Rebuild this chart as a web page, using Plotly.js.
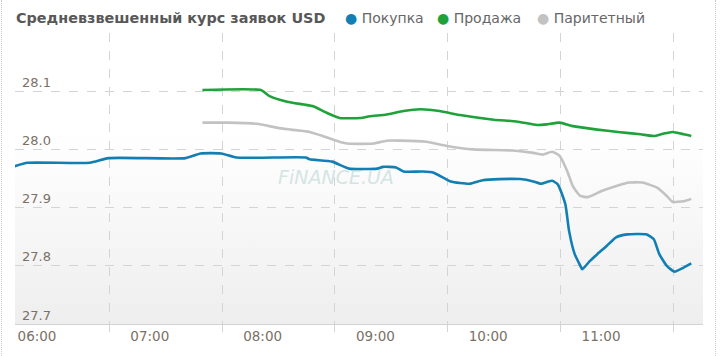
<!DOCTYPE html>
<html>
<head>
<meta charset="utf-8">
<script src="https://cdn.plot.ly/plotly-3.0.1.min.js"></script>
<style>
  html, body { margin: 0; padding: 0; background: #fff; }
  #wrap { position: relative; width: 720px; height: 356px; overflow: hidden; }
  #bg { position: absolute; left: 15px; top: 33px; width: 688px; height: 292px;
        background: linear-gradient(to bottom, #ffffff 0%, #ffffff 35%, #eeeeee 100%); }
  #frameL { position: absolute; left: 1px; top: 0; width: 0; height: 356px; border-left: 1px dotted #c8c8c8; }
  #frameR { position: absolute; left: 715px; top: 0; width: 0; height: 356px; border-left: 1px dotted #c8c8c8; }
  #chart { position: absolute; left: 0; top: 0; width: 720px; height: 356px; }
</style>
</head>
<body>
<div id="wrap">
  <div id="bg"></div>
  <div id="frameL"></div>
  <div id="frameR"></div>
  <div id="chart"></div>
</div>
<script>
// ---- data ----
const chartTitle = 'Средневзвешенный курс заявок USD';
const seriesNames = ['Покупка', 'Продажа', 'Паритетный'];
const seriesColors = ['#117fb3', '#1fa23a', '#c2c2c2'];

const buyTimes = ['05:48','05:55','06:28','06:38','07:19','07:27','07:38','07:46','08:23','08:25','08:37','08:46','09:01','09:04','09:11','09:15','09:25','09:31','09:40','09:50','09:57','10:06','10:17','10:24','10:28','10:32','10:34','10:37','10:41','10:43','10:46','10:49','10:50','10:54','10:58','11:03','11:08','11:14','11:24','11:28','11:31','11:35','11:39','11:44','11:48'];
const buyValues = [27.971,27.977,27.977,27.985,27.985,27.993,27.993,27.986,27.986,27.983,27.979,27.967,27.967,27.970,27.969,27.962,27.962,27.960,27.945,27.941,27.947,27.949,27.949,27.945,27.941,27.945,27.946,27.940,27.906,27.860,27.820,27.800,27.794,27.808,27.820,27.834,27.849,27.854,27.854,27.846,27.820,27.800,27.790,27.797,27.804];

const sellTimes = ['07:28','07:59','08:04','08:13','08:22','08:27','08:34','08:41','08:52','08:57','09:06','09:15','09:24','09:34','09:45','10:03','10:15','10:26','10:31','10:38','10:45','10:58','11:09','11:21','11:28','11:33','11:38','11:44','11:48'];
const sellValues = [28.102,28.102,28.091,28.082,28.077,28.074,28.063,28.054,28.054,28.057,28.060,28.066,28.069,28.066,28.059,28.051,28.048,28.042,28.043,28.046,28.040,28.034,28.030,28.026,28.023,28.027,28.030,28.026,28.023];

const parTimes = ['07:28','07:41','07:57','08:08','08:15','08:25','08:32','08:40','08:45','08:59','09:06','09:13','09:27','09:38','09:52','10:13','10:24','10:29','10:34','10:38','10:42','10:45','10:49','10:53','11:00','11:09','11:15','11:22','11:30','11:35','11:38','11:44','11:48'];
const parValues = [28.046,28.046,28.044,28.037,28.034,28.030,28.023,28.014,28.010,28.010,28.015,28.015,28.013,28.006,28.000,27.998,27.994,27.991,27.996,27.989,27.963,27.937,27.920,27.918,27.928,27.938,27.943,27.943,27.934,27.920,27.910,27.911,27.915];

const xTickLabels = ['06:00','07:00','08:00','09:00','10:00','11:00'];
const yTickVals = [27.7, 27.8, 27.9, 28.0, 28.1, 28.2];
const yTickText = ['27.7', '27.8', '27.9', '28.0', '28.1', ''];

// ---- helpers ----
const toHours = s => { const [h, m] = s.split(':').map(Number); return h + m / 60; };

const seriesTimes = [buyTimes, sellTimes, parTimes];
const seriesValues = [buyValues, sellValues, parValues];

const traces = seriesNames.map((name, i) => ({
  type: 'scatter', mode: 'lines', name: name,
  x: seriesTimes[i].map(toHours), y: seriesValues[i],
  line: { color: seriesColors[i], width: 2.6, shape: 'spline', smoothing: 0.5 },
  showlegend: false, hoverinfo: 'x+y'
}));

const FONT = 'DejaVu Sans, Verdana, sans-serif';
const legendX = [343, 435, 535];
const annotations = seriesNames.map((name, i) => ({
  xref: 'paper', yref: 'paper', xanchor: 'left', yanchor: 'middle',
  x: (legendX[i] - 15) / 688, y: 1 + 15 / 291.5,
  showarrow: false,
  text: '<span style="color:' + seriesColors[i] + '">●</span> ' + name,
  font: { family: FONT, size: 14, color: '#666' }
}));
annotations.push({
  xref: 'paper', yref: 'paper', x: 0.467, y: 0.506, showarrow: false,
  text: '<i>FiNANCE.UA</i>',
  font: { family: FONT, size: 19, color: 'rgba(195,218,215,0.7)' }
});

const layout = {
  width: 720, height: 356,
  margin: { l: 15, r: 17, t: 33, b: 32, pad: 0 },
  paper_bgcolor: 'rgba(0,0,0,0)', plot_bgcolor: 'rgba(0,0,0,0)',
  title: {
    text: '<b>' + chartTitle + '</b>',
    x: 16 / 720, xanchor: 'left', xref: 'container',
    y: 1 - 18 / 356, yanchor: 'middle', yref: 'container',
    font: { family: FONT, size: 14.4, color: '#585858' }
  },
  showlegend: false,
  xaxis: {
    range: [5.805, 11.904], fixedrange: true,
    tickmode: 'array', tickvals: [6, 7, 8, 9, 10, 11], ticktext: xTickLabels,
    showgrid: false, zeroline: false, ticks: '',
    showline: true, linecolor: '#d2d2d2', linewidth: 1,
    tickfont: { family: FONT, size: 13.5, color: '#7a7166' },
    minor: { tickmode: 'linear', tick0: 6.641, dtick: 1, showgrid: true, griddash: 'dash',
             gridcolor: '#d4d4d4', gridwidth: 1, ticks: 'outside', ticklen: 7, tickcolor: '#d4d4d4' }
  },
  yaxis: {
    range: [27.7, 28.2], fixedrange: true,
    tickmode: 'array', tickvals: yTickVals, ticktext: yTickText,
    ticklabelposition: 'outside', ticks: '',
    ticklabelstandoff: -37, ticklabelshift: -9,
    showgrid: true, griddash: 'dash', gridcolor: '#d4d4d4', gridwidth: 1,
    zeroline: false, showline: false, automargin: false,
    tickfont: { family: FONT, size: 13, color: '#7a7166' }
  },
  annotations: annotations
};

Plotly.newPlot('chart', traces, layout, { displayModeBar: false, staticPlot: true });
</script>
</body>
</html>
